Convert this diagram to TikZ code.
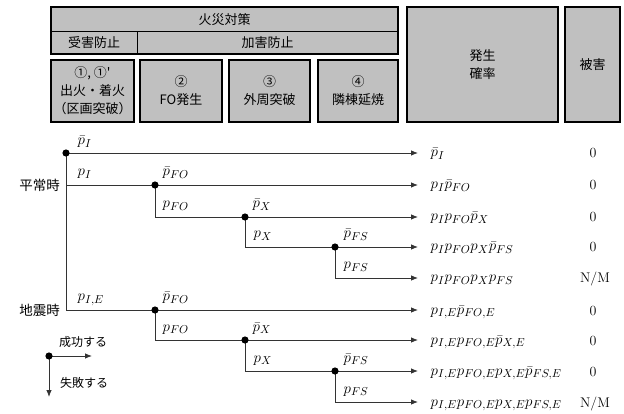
\RequirePackage{fix-cm}
\documentclass[tikz,border=0pt]{standalone}
\usepackage{fontspec}
\DeclareMathSizes{15}{15}{11.5}{9}
\newfontfamily\jp{Noto Sans CJK JP}
\usetikzlibrary{arrows.meta}
\definecolor{hgray}{HTML}{C0C0C0}
\begin{document}
\begin{tikzpicture}[x=1pt,y=-1pt,
  hbox/.style={draw, line width=1.6pt, fill=hgray, inner sep=0pt, align=center,
    font=\jp\fontsize{13}{18}\selectfont},
  htxt/.style={inner sep=0pt, align=center, font=\jp\fontsize{13}{18}\selectfont},
  tline/.style={line width=0.8pt, draw=black!80},
  arr/.style={tline, -{Latex[length=7pt,width=5.5pt]}},
  dot/.style={fill=black},
  blab/.style={anchor=base west, inner sep=0.5pt, font=\fontsize{15}{17}\selectfont},
  olab/.style={anchor=base west, inner sep=0.5pt, font=\fontsize{15}{17}\selectfont},
  dmg/.style={anchor=base, inner sep=0.5pt, font=\fontsize{14}{16}\selectfont},
  side/.style={anchor=east, inner sep=0pt, font=\jp\fontsize{13.5}{16}\selectfont},
  leg/.style={anchor=west, inner sep=0pt, font=\jp\fontsize{12}{14}\selectfont}
]
\useasboundingbox (0,0) rectangle (624,414);

% ---------- header ----------
\node[hbox, minimum width=347pt, minimum height=47pt] (top) at (224.5,30.5) {};
\draw[line width=1pt] (51,32) -- (398,32);
\draw[line width=1pt] (137,32) -- (137,54);
\node[htxt] (kasai) at (224.5,19.5) {火災対策};
\node[htxt] (juh) at (94,43) {受害防止};
\node[htxt] (kah) at (267.5,43) {加害防止};

\node[hbox, minimum width=83pt, minimum height=62pt] (b1) at (92.5,91) {\fontsize{13}{19.5}\selectfont ①, ①'\\出火・着火\\（区画突破）};
\node[hbox, minimum width=82pt, minimum height=62pt] (b2) at (181,91) {②\\FO発生};
\node[hbox, minimum width=81pt, minimum height=62pt] (b3) at (269.5,91) {③\\外周突破};
\node[hbox, minimum width=80pt, minimum height=62pt] (b4) at (358,91) {④\\隣棟延焼};
\node[hbox, minimum width=151pt, minimum height=115pt] (b5) at (482.5,64.5) {\fontsize{13}{17}\selectfont 発生\\確率};
\node[hbox, minimum width=55pt, minimum height=115pt] (b6) at (592.5,64.5) {被害};

% ---------- tree coordinates ----------
\coordinate (r) at (66,153);
\coordinate (s1) at (66,185);
\coordinate (s2) at (66,310);
\coordinate (a1) at (155,185);
\coordinate (a1d) at (155,217);
\coordinate (a2) at (245,217);
\coordinate (a2d) at (245,247);
\coordinate (a3) at (335,247);
\coordinate (a3d) at (335,278);
\coordinate (b1d) at (155,310);
\coordinate (b1e) at (155,340);
\coordinate (b2d) at (245,340);
\coordinate (b2e) at (245,371);
\coordinate (b3d) at (335,371);
\coordinate (b3e) at (335,402);

\foreach \i/\y in {1/153,2/185,3/217,4/247,5/278,6/310,7/340,8/371,9/402}
  \coordinate (e\i) at (418,\y);

% ---------- tree lines ----------
\draw[tline] (r) -- (s2);
\draw[tline] (a1) -- (a1d);
\draw[tline] (a2) -- (a2d);
\draw[tline] (a3) -- (a3d);
\draw[tline] (b1d) -- (b1e);
\draw[tline] (b2d) -- (b2e);
\draw[tline] (b3d) -- (b3e);

\draw[arr] (r) -- (e1);
\draw[arr] (s1) -- (e2);
\draw[arr] (a1d) -- (e3);
\draw[arr] (a2d) -- (e4);
\draw[arr] (a3d) -- (e5);
\draw[arr] (s2) -- (e6);
\draw[arr] (b1e) -- (e7);
\draw[arr] (b2e) -- (e8);
\draw[arr] (b3e) -- (e9);

\foreach \c in {r,a1,a2,a3,b1d,b2d,b3d}
  \fill[dot] (\c) circle (3.6pt);

% ---------- branch labels ----------
\node[blab] (l1) at (77,145) {$\bar p_I$};
\node[blab] (l2) at (77,176) {$p_I$};
\node[blab] (l3) at (162,176) {$\bar p_{FO}$};
\node[blab] (l4) at (162,208) {$p_{FO}$};
\node[blab] (l5) at (252,208) {$\bar p_X$};
\node[blab] (l6) at (253,238) {$p_X$};
\node[blab] (l7) at (343,238) {$\bar p_{FS}$};
\node[blab] (l8) at (343,269) {$p_{FS}$};
\node[blab] (l9) at (77,301) {$p_{I,E}$};
\node[blab] (l10) at (162,301) {$\bar p_{FO}$};
\node[blab] (l11) at (162,331) {$p_{FO}$};
\node[blab] (l12) at (252,331) {$\bar p_X$};
\node[blab] (l13) at (253,362) {$p_X$};
\node[blab] (l14) at (343,362) {$\bar p_{FS}$};
\node[blab] (l15) at (343,393) {$p_{FS}$};

% ---------- outputs ----------
\node[olab] (o1) at (430,157) {$\bar p_I$};
\node[olab] (o2) at (430,189) {$p_I\bar p_{FO}$};
\node[olab] (o3) at (430,221) {$p_Ip_{FO}\bar p_X$};
\node[olab] (o4) at (430,251) {$p_Ip_{FO}p_X\bar p_{FS}$};
\node[olab] (o5) at (430,282) {$p_Ip_{FO}p_Xp_{FS}$};
\node[olab] (o6) at (430,314) {$p_{I,E}\bar p_{FO,E}$};
\node[olab] (o7) at (430,344) {$p_{I,E}p_{FO,E}\bar p_{X,E}$};
\node[olab] (o8) at (430,375) {$p_{I,E}p_{FO,E}p_{X,E}\bar p_{FS,E}$};
\node[olab] (o9) at (430,406) {$p_{I,E}p_{FO,E}p_{X,E}p_{FS,E}$};

\node[dmg] (d1) at (593,158) {0};
\node[dmg] (d2) at (593,190) {0};
\node[dmg] (d3) at (593,222) {0};
\node[dmg] (d4) at (593,252) {0};
\node[dmg] (d5) at (595,283) {N/M};
\node[dmg] (d6) at (593,315) {0};
\node[dmg] (d7) at (593,345) {0};
\node[dmg] (d8) at (593,376) {0};
\node[dmg] (d9) at (595,407) {N/M};

% ---------- side labels ----------
\node[side] (heijo) at (60,185) {平常時};
\node[side] (jishin) at (60,310) {地震時};

% ---------- legend ----------
\coordinate (lg) at (49,356);
\coordinate (lgr) at (92,356);
\coordinate (lgd) at (49,397);
\draw[arr] (lg) -- (lgr);
\draw[arr] (lg) -- (lgd);
\fill[dot] (lg) circle (3.6pt);
\node[leg] (seiko) at (59,342) {成功する};
\node[leg] (shippai) at (60,383) {失敗する};
\end{tikzpicture}
\end{document}
